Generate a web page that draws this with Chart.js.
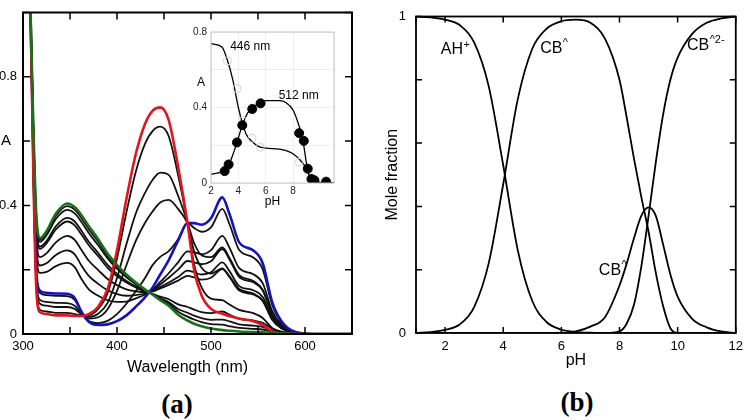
<!DOCTYPE html>
<html>
<head>
<meta charset="utf-8">
<script src="https://cdn.jsdelivr.net/npm/chart.js@4.4.1/dist/chart.umd.min.js"></script>
<style>
  html, body { margin: 0; padding: 0; background: #fff; }
  #wrap { position: relative; width: 750px; height: 420px; overflow: hidden; }
  canvas { position: absolute; }
  #specA { left: 0; top: 0; }
  #inset { left: 185px; top: 20px; }
  #fracB { left: 375px; top: 0; }
  .panel { position: absolute; font: bold 27px "Liberation Serif", "Times New Roman", serif; transform: translate(-50%, -50%); }
</style>
</head>
<body>
<div id="wrap">
  <canvas id="specA" width="360" height="380"></canvas>
  <canvas id="inset" width="160" height="195"></canvas>
  <canvas id="fracB" width="375" height="380"></canvas>
  <div class="panel" style="left:177px; top:404px">(a)</div>
  <div class="panel" style="left:577px; top:402px">(b)</div>
</div>
<script>
// ---- panel (a): absorption spectra ----
const wavelength = [300, 308, 311, 314, 318, 325, 335, 347, 355, 362, 370, 380, 390, 400, 410, 420, 430, 438, 446, 455, 465, 475, 482, 490, 500, 512, 520, 530, 545, 555, 565, 575, 590, 610, 650];

const absRed   = [1.6, 1.0, 0.5, 0.15, 0.068, 0.062, 0.058, 0.058, 0.056, 0.056, 0.062, 0.085, 0.14, 0.26, 0.42, 0.56, 0.655, 0.695, 0.705, 0.665, 0.52, 0.345, 0.2, 0.12, 0.078, 0.063, 0.055, 0.048, 0.04, 0.028, 0.008, 0.002, 0, 0, 0];
const absB1    = [1.6, 1.0, 0.51, 0.16, 0.075, 0.07, 0.066, 0.066, 0.062, 0.058, 0.059, 0.078, 0.127, 0.235, 0.378, 0.505, 0.593, 0.632, 0.645, 0.615, 0.494, 0.345, 0.217, 0.145, 0.11, 0.105, 0.091, 0.075, 0.065, 0.05, 0.019, 0.006, 0.001, 0, 0];
const absB2    = [1.6, 1.0, 0.52, 0.17, 0.094, 0.088, 0.084, 0.084, 0.078, 0.061, 0.053, 0.063, 0.097, 0.174, 0.279, 0.375, 0.44, 0.48, 0.502, 0.495, 0.43, 0.345, 0.257, 0.206, 0.188, 0.204, 0.178, 0.14, 0.126, 0.103, 0.044, 0.017, 0.002, 0, 0];
const absB3    = [1.6, 1.0, 0.53, 0.18, 0.106, 0.1, 0.097, 0.096, 0.088, 0.064, 0.048, 0.052, 0.077, 0.134, 0.214, 0.29, 0.347, 0.382, 0.409, 0.417, 0.389, 0.345, 0.283, 0.245, 0.239, 0.269, 0.235, 0.183, 0.165, 0.137, 0.06, 0.024, 0.003, 0, 0];
const absB4    = [1.6, 1.0, 0.545, 0.195, 0.128, 0.121, 0.119, 0.118, 0.106, 0.069, 0.04, 0.034, 0.041, 0.062, 0.094, 0.133, 0.175, 0.215, 0.24, 0.258, 0.295, 0.345, 0.33, 0.318, 0.332, 0.389, 0.339, 0.261, 0.238, 0.201, 0.091, 0.036, 0.005, 0, 0];
const absBlue  = [1.6, 1.0, 0.55, 0.2, 0.135, 0.128, 0.126, 0.125, 0.112, 0.07, 0.038, 0.028, 0.03, 0.04, 0.058, 0.085, 0.115, 0.145, 0.185, 0.23, 0.29, 0.345, 0.345, 0.34, 0.36, 0.425, 0.37, 0.285, 0.26, 0.22, 0.1, 0.04, 0.006, 0, 0];
const absK1    = [1.6, 1.0, 0.584, 0.261, 0.19, 0.193, 0.211, 0.221, 0.208, 0.172, 0.139, 0.119, 0.105, 0.1, 0.101, 0.111, 0.123, 0.138, 0.162, 0.189, 0.223, 0.257, 0.254, 0.248, 0.261, 0.305, 0.266, 0.205, 0.186, 0.158, 0.072, 0.029, 0.004, 0, 0];
const absK2    = [1.6, 1.0, 0.598, 0.286, 0.213, 0.22, 0.246, 0.26, 0.248, 0.214, 0.181, 0.156, 0.136, 0.124, 0.119, 0.121, 0.126, 0.136, 0.154, 0.175, 0.2, 0.227, 0.223, 0.217, 0.226, 0.264, 0.23, 0.177, 0.161, 0.136, 0.062, 0.025, 0.004, 0, 0];
const absK3    = [1.6, 1.0, 0.614, 0.315, 0.239, 0.251, 0.285, 0.305, 0.293, 0.262, 0.228, 0.199, 0.171, 0.152, 0.139, 0.133, 0.13, 0.134, 0.146, 0.16, 0.177, 0.197, 0.192, 0.185, 0.192, 0.223, 0.194, 0.149, 0.136, 0.115, 0.052, 0.021, 0.003, 0, 0];
const absK4    = [1.6, 1.0, 0.63, 0.344, 0.265, 0.282, 0.325, 0.35, 0.338, 0.31, 0.276, 0.242, 0.206, 0.18, 0.16, 0.145, 0.133, 0.133, 0.142, 0.153, 0.166, 0.181, 0.176, 0.169, 0.175, 0.202, 0.176, 0.135, 0.123, 0.104, 0.048, 0.019, 0.003, 0, 0];
const absK5    = [1.6, 1.0, 0.634, 0.351, 0.272, 0.289, 0.335, 0.361, 0.35, 0.322, 0.287, 0.252, 0.215, 0.187, 0.165, 0.148, 0.134, 0.125, 0.116, 0.108, 0.092, 0.084, 0.076, 0.068, 0.065, 0.07, 0.06, 0.047, 0.042, 0.035, 0.017, 0.007, 0.001, 0, 0];
const absK6    = [1.6, 1.0, 0.643, 0.367, 0.287, 0.307, 0.358, 0.386, 0.375, 0.349, 0.314, 0.276, 0.235, 0.203, 0.176, 0.155, 0.136, 0.124, 0.111, 0.099, 0.078, 0.066, 0.057, 0.049, 0.044, 0.045, 0.039, 0.03, 0.026, 0.022, 0.011, 0.005, 0, 0, 0];
const absK7    = [1.6, 1.0, 0.647, 0.375, 0.293, 0.314, 0.368, 0.398, 0.387, 0.361, 0.326, 0.287, 0.243, 0.21, 0.181, 0.158, 0.137, 0.123, 0.108, 0.094, 0.069, 0.054, 0.045, 0.037, 0.031, 0.029, 0.024, 0.019, 0.016, 0.014, 0.007, 0.003, 0, 0, 0];
const absGreen = [1.6, 1.0, 0.65, 0.38, 0.298, 0.32, 0.375, 0.406, 0.395, 0.37, 0.335, 0.295, 0.25, 0.215, 0.185, 0.16, 0.138, 0.122, 0.105, 0.088, 0.06, 0.042, 0.032, 0.024, 0.017, 0.012, 0.01, 0.008, 0.006, 0.005, 0.003, 0.002, 0, 0, 0];

const xLabelsA = [300, 400, 500, 600];
const yLabelsA = [0, 0.4, 0.8];

// ---- inset: absorbance vs pH at 446 and 512 nm ----
const insetPh446  = [2, 2.8, 3.2, 3.6, 4.0, 4.3, 4.6, 5.0, 5.5, 6.0, 7.0, 7.5, 8.0, 8.5, 8.8, 9.0, 9.2, 9.5, 10.0, 11.0];
const insetAbs446 = [0.738, 0.72, 0.65, 0.545, 0.40, 0.316, 0.255, 0.22, 0.193, 0.185, 0.18, 0.172, 0.155, 0.123, 0.097, 0.07, 0.039, 0.014, 0.002, 0];
const insetPh512  = [2, 2.5, 3.0, 3.3, 3.6, 3.9, 4.3, 4.7, 5.0, 5.5, 6.0, 7.0, 7.5, 8.0, 8.3, 8.6, 8.8, 9.0, 9.2, 9.4, 9.7, 10.0, 11.0];
const insetAbs512 = [0.047, 0.053, 0.067, 0.097, 0.15, 0.215, 0.308, 0.373, 0.396, 0.422, 0.436, 0.436, 0.425, 0.387, 0.334, 0.264, 0.193, 0.097, 0.035, 0.012, 0.004, 0.002, 0];
const dotsPh512   = [3.0, 3.29, 3.9, 4.29, 5.02, 5.63, 8.45, 8.79, 9.08, 9.35, 9.57, 10.42];
const dotsAbs512  = [0.063, 0.098, 0.215, 0.306, 0.392, 0.422, 0.264, 0.223, 0.076, 0.021, 0.014, 0.007];
const dotsPh446   = [3.2, 3.9, 4.3, 5.0, 5.6, 8.45, 9.08, 9.5];
const dotsAbs446  = [0.647, 0.5, 0.33, 0.237, 0.19, 0.11, 0.06, 0.02];
const insetXLabels = [2, 4, 6, 8, 10];
const insetYLabels = [0, 0.4, 0.8];

// ---- panel (b): species distribution ----
const phB      = [1, 1.5, 2, 2.5, 3, 3.5, 4, 4.5, 5, 5.5, 6, 6.5, 7, 7.5, 8, 8.25, 8.5, 8.75, 9, 9.25, 9.5, 9.75, 10, 10.5, 11, 11.5, 12];
const fracAH   = [1.0, 0.997, 0.99, 0.973, 0.918, 0.78, 0.53, 0.262, 0.101, 0.034, 0.011, 0.003, 0.001, 0, 0, 0, 0, 0, 0, 0, 0, 0, 0, 0, 0, 0, 0];
const fracCB   = [0, 0.003, 0.01, 0.027, 0.082, 0.22, 0.47, 0.738, 0.898, 0.962, 0.985, 0.99, 0.98, 0.93, 0.8, 0.68, 0.55, 0.43, 0.32, 0.19, 0.085, 0.015, 0, 0, 0, 0, 0];
const fracCBm  = [0, 0, 0, 0, 0, 0, 0, 0, 0, 0, 0.001, 0.005, 0.02, 0.05, 0.15, 0.22, 0.3, 0.37, 0.397, 0.37, 0.28, 0.185, 0.115, 0.045, 0.018, 0.005, 0];
const fracCB2  = [0, 0, 0, 0, 0, 0, 0, 0, 0, 0, 0, 0, 0, 0, 0.005, 0.03, 0.09, 0.21, 0.37, 0.54, 0.69, 0.8, 0.87, 0.945, 0.98, 0.994, 1.0];
const xLabelsB = [2, 4, 6, 8, 10, 12];
const yLabelsB = [0, 1];

const FONT = '"Liberation Sans", Arial, Helvetica, sans-serif';
Chart.defaults.font.family = FONT;
Chart.defaults.color = '#000';

const xy = (xs, ys) => xs.map((x, i) => ({x: x, y: ys[i]}));
const pick = list => v => {
  const t = list.find(t => Math.abs(t - v) < 1e-6);
  return t === undefined ? '' : String(t);
};

// box around the plot area with inward tick marks on all four sides
const frameTicks = {
  id: 'frameTicks',
  afterDatasetsDraw(chart, args, opts) {
    const {ctx, chartArea: a, scales: {x, y}} = chart;
    ctx.save();
    ctx.strokeStyle = opts.color || '#000';
    ctx.lineWidth = opts.width;
    ctx.strokeRect(a.left, a.top, a.right - a.left, a.bottom - a.top);
    if (opts.len) {
      ctx.lineWidth = opts.tickWidth || 1.5;
      ctx.beginPath();
      x.ticks.forEach(t => {
        const p = x.getPixelForValue(t.value);
        ctx.moveTo(p, a.bottom); ctx.lineTo(p, a.bottom - opts.len);
        ctx.moveTo(p, a.top); ctx.lineTo(p, a.top + opts.len);
      });
      y.ticks.forEach(t => {
        const p = y.getPixelForValue(t.value);
        ctx.moveTo(a.left, p); ctx.lineTo(a.left + opts.len, p);
        ctx.moveTo(a.right, p); ctx.lineTo(a.right - opts.len, p);
      });
      ctx.stroke();
    }
    ctx.restore();
  }
};

// free text placed in data coordinates, with optional superscript
const notes = {
  id: 'notes',
  afterDraw(chart, args, opts) {
    const {ctx, scales: {x, y}} = chart;
    ctx.save();
    ctx.fillStyle = '#000';
    (opts.items || []).forEach(n => {
      const px = n.px !== undefined ? n.px : x.getPixelForValue(n.x);
      const py = y.getPixelForValue(n.y);
      ctx.font = n.size + 'px ' + FONT;
      ctx.textAlign = n.align || 'left';
      ctx.textBaseline = n.baseline || 'alphabetic';
      ctx.fillText(n.text, px, py);
      if (n.sup) {
        const w = ctx.measureText(n.text).width;
        ctx.font = Math.round(n.size * 0.68) + 'px ' + FONT;
        ctx.textAlign = 'left';
        ctx.fillText(n.sup, px + w + 0.5, py - n.size * 0.42);
      }
    });
    ctx.restore();
  }
};

const spectra = [
  {v: absGreen, c: '#1b701b', w: 2.6},
  {v: absRed,   c: '#e3141b', w: 2.6},
  {v: absBlue,  c: '#1414b8', w: 2.6},
  {v: absK7}, {v: absK6}, {v: absK5}, {v: absK4}, {v: absK3}, {v: absK2}, {v: absK1},
  {v: absB4}, {v: absB3}, {v: absB2}, {v: absB1}
];

const noGrid = {display: false, drawTicks: false};

new Chart(document.getElementById('specA'), {
  type: 'line',
  data: {
    datasets: spectra.map(s => ({
      data: xy(wavelength, s.v),
      borderColor: s.c || '#111',
      borderWidth: s.w || 1.8,
      pointRadius: 0,
      cubicInterpolationMode: 'monotone',
      fill: false
    }))
  },
  options: {
    responsive: false, animation: false, events: [],
    layout: {padding: {top: 8, right: 8, left: 0, bottom: 0}},
    plugins: {
      legend: {display: false}, tooltip: {enabled: false},
      frameTicks: {width: 2, len: 7, tickWidth: 1.5},
      notes: {items: [{text: 'A', px: 6, y: 0.6, size: 15, align: 'center', baseline: 'middle'}]}
    },
    scales: {
      x: {
        type: 'linear', min: 300, max: 650,
        afterFit: s => { s.height = 46; },
        grid: noGrid, border: {display: false},
        ticks: {stepSize: 50, autoSkip: false, maxRotation: 0, padding: 6, font: {size: 13, lineHeight: 1}, callback: pick(xLabelsA)},
        title: {display: true, text: 'Wavelength (nm)', font: {size: 16}, padding: {top: 0, bottom: 3}}
      },
      y: {
        min: 0, max: 1,
        afterFit: s => { s.width = 23; },
        grid: noGrid, border: {display: false},
        ticks: {stepSize: 0.2, autoSkip: false, padding: 6, font: {size: 13, lineHeight: 1}, callback: pick(yLabelsA)}
      }
    }
  },
  plugins: [frameTicks, notes]
});

new Chart(document.getElementById('inset'), {
  type: 'line',
  data: {
    datasets: [
      {data: xy(dotsPh512, dotsAbs512), showLine: false, pointRadius: 4.5, pointBackgroundColor: '#000', pointBorderColor: '#000'},
      {data: xy(dotsPh446, dotsAbs446), showLine: false, pointRadius: 4, pointBackgroundColor: 'rgba(255,255,255,0)', pointBorderColor: '#d4d4d4', pointBorderWidth: 1},
      {data: xy(insetPh446, insetAbs446), borderColor: '#000', borderWidth: 1.3, pointRadius: 0, cubicInterpolationMode: 'monotone'},
      {data: xy(insetPh512, insetAbs512), borderColor: '#000', borderWidth: 1.3, pointRadius: 0, cubicInterpolationMode: 'monotone'}
    ]
  },
  options: {
    responsive: false, animation: false, events: [],
    layout: {padding: {top: 12, right: 11, left: 0, bottom: 0}},
    plugins: {
      legend: {display: false}, tooltip: {enabled: false},
      frameTicks: {width: 1, len: 0, color: '#c6c6c6'},
      notes: {items: [
        {text: 'A', px: 16, y: 0.53, size: 12, align: 'center', baseline: 'middle'},
        {text: '446 nm', x: 3.4, y: 0.705, size: 12},
        {text: '512 nm', x: 6.95, y: 0.447, size: 12}
      ]}
    },
    scales: {
      x: {
        type: 'linear', min: 2, max: 11,
        afterFit: s => { s.height = 32; },
        grid: {color: '#eeeeee', drawTicks: false}, border: {display: false},
        ticks: {stepSize: 2, autoSkip: false, maxRotation: 0, padding: 3, color: '#222', font: {size: 10, lineHeight: 1}, callback: pick(insetXLabels)},
        title: {display: true, text: 'pH', font: {size: 12}, padding: {top: 0, bottom: 6}}
      },
      y: {
        min: 0, max: 0.8,
        afterFit: s => { s.width = 26; },
        grid: {color: '#eeeeee', drawTicks: false}, border: {display: false},
        ticks: {stepSize: 0.2, autoSkip: false, padding: 4, color: '#222', font: {size: 10, lineHeight: 1}, callback: pick(insetYLabels)}
      }
    }
  },
  plugins: [frameTicks, notes]
});

new Chart(document.getElementById('fracB'), {
  type: 'line',
  data: {
    datasets: [fracAH, fracCB, fracCBm, fracCB2].map(f => ({
      data: xy(phB, f), borderColor: '#000', borderWidth: 1.8, pointRadius: 0, cubicInterpolationMode: 'monotone'
    }))
  },
  options: {
    responsive: false, animation: false, events: [],
    layout: {padding: {top: 6, right: 7, left: 0, bottom: 0}},
    plugins: {
      legend: {display: false}, tooltip: {enabled: false},
      frameTicks: {width: 1.8, len: 6, tickWidth: 1.5},
      notes: {items: [
        {text: 'AH', sup: '+', x: 1.85, y: 0.88, size: 16},
        {text: 'CB', sup: '^', x: 5.27, y: 0.885, size: 16},
        {text: 'CB', sup: '^2-', x: 10.32, y: 0.895, size: 16},
        {text: 'CB', sup: '^', x: 7.29, y: 0.183, size: 16}
      ]}
    },
    scales: {
      x: {
        type: 'linear', min: 1, max: 12,
        afterFit: s => { s.height = 47; },
        grid: noGrid, border: {display: false},
        ticks: {stepSize: 2, autoSkip: false, maxRotation: 0, padding: 7, font: {size: 13, lineHeight: 1}, callback: pick(xLabelsB)},
        title: {display: true, text: 'pH', font: {size: 16}, padding: {top: 0, bottom: 10}}
      },
      y: {
        min: 0, max: 1,
        afterFit: s => { s.width = 41; },
        grid: noGrid, border: {display: false},
        ticks: {stepSize: 0.2, autoSkip: false, padding: 10, font: {size: 13, lineHeight: 1}, callback: pick(yLabelsB)},
        title: {display: true, text: 'Mole fraction', font: {size: 16}, padding: {top: 8, bottom: 0}}
      }
    }
  },
  plugins: [frameTicks, notes]
});
</script>
</body>
</html>
